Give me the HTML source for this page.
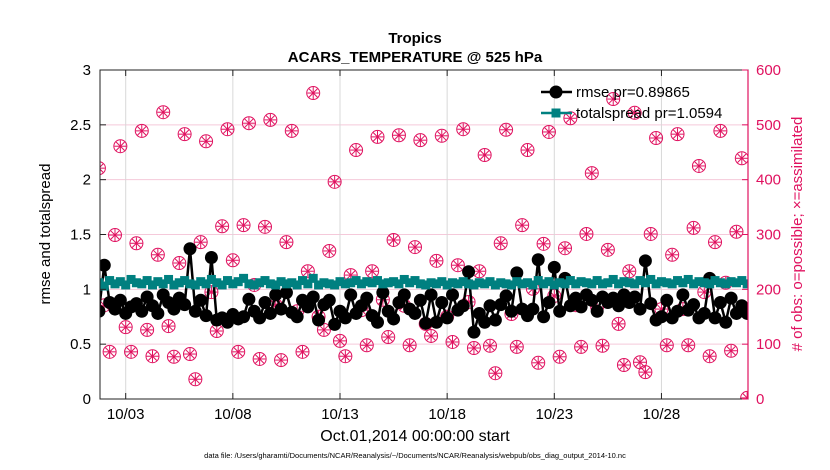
<!DOCTYPE html>
<html><head><meta charset="utf-8">
<style>
body{margin:0;background:#fff;}
svg{display:block;font-family:"Liberation Sans",sans-serif;}
</style></head>
<body>
<svg id="chart" width="830" height="470" viewBox="0 0 830 470">
<defs><clipPath id="plotclip"><rect x="100" y="70" width="648" height="329"/></clipPath></defs>
<text x="415" y="43" text-anchor="middle" font-size="15" font-weight="bold">Tropics</text>
<text x="415" y="62" text-anchor="middle" font-size="15" font-weight="bold">ACARS_TEMPERATURE @ 525 hPa</text>
<g id="grid"></g>
<g id="marks" clip-path="url(#plotclip)"></g>
<g id="axes"></g>
<text x="415" y="441" text-anchor="middle" font-size="16">Oct.01,2014 00:00:00 start</text>
<text transform="translate(50,234) rotate(-90)" text-anchor="middle" font-size="15">rmse and totalspread</text>
<text transform="translate(802,234) rotate(-90)" text-anchor="middle" font-size="15" fill="#e0115f"># of obs: o=possible; ×=assimilated</text>
<text x="415" y="458" text-anchor="middle" font-size="7.5">data file: /Users/gharamti/Documents/NCAR/Reanalysis/~/Documents/NCAR/Reanalysis/webpub/obs_diag_output_2014-10.nc</text>
<g id="legend"></g>
</svg>
<script>
const dateTicks = [3, 8, 13, 18, 23, 28];
const dateLabels = ["10/03", "10/08", "10/13", "10/18", "10/23", "10/28"];
const leftTicks = [0, 0.5, 1, 1.5, 2, 2.5, 3];
const rightTicks = [0, 100, 200, 300, 400, 500, 600];
const obsCount = [286,421,171,86,299,461,131,86,284,489,
126,78,263,523,133,77,248,483,82,36,
286,470,195,124,315,492,253,86,317,503,
208,73,314,509,171,71,286,489,160,86,
233,558,150,126,270,396,106,78,226,454,
162,98,233,478,181,113,290,481,170,98,
277,472,137,115,252,480,150,104,244,492,
177,93,233,445,97,47,284,491,155,95,
317,454,201,66,283,487,188,77,275,512,
171,95,301,412,168,97,272,547,137,62,
233,522,67,49,301,476,164,98,263,483,
164,98,312,425,195,78,286,489,212,88,
305,439,2];
const rmse = [0.85,0.80,1.22,0.88,0.82,0.90,0.78,0.84,0.87,0.80,
0.93,0.85,0.78,0.95,0.88,0.82,0.92,0.86,1.37,0.80,
0.90,0.76,1.29,0.72,0.74,0.70,0.77,0.73,0.75,0.91,
0.80,0.74,0.88,0.78,0.95,0.82,0.97,0.79,0.75,0.90,
0.84,0.93,0.72,0.86,0.90,0.68,0.80,0.74,0.95,0.78,
0.85,0.92,0.76,0.70,0.97,0.80,0.73,0.88,0.95,0.82,
0.78,0.90,0.69,0.95,0.70,0.88,0.74,0.95,0.81,0.85,
1.16,0.61,0.78,0.70,0.85,0.72,0.86,0.94,0.80,1.15,
0.82,0.76,0.82,1.27,0.75,0.88,1.20,0.80,1.10,0.85,
0.92,0.84,0.95,0.90,0.80,0.93,0.88,0.92,0.85,0.95,
0.88,0.93,0.82,1.26,0.87,0.72,0.75,0.90,0.74,0.80,
0.95,0.81,0.86,0.74,0.78,1.10,0.74,0.88,0.70,0.92,
0.78,0.85,0.78];
const spread = [1.04,1.06,1.03,1.08,1.05,1.07,1.04,1.09,1.06,1.05,
1.08,1.04,1.07,1.05,1.09,1.04,1.06,1.08,1.05,1.04,
1.07,1.05,1.09,1.06,1.04,1.08,1.05,1.07,1.10,1.05,
1.04,1.06,1.08,1.05,1.04,1.07,1.05,1.06,1.04,1.08,
1.05,1.10,1.04,1.06,1.05,1.04,1.07,1.05,1.06,1.08,
1.05,1.07,1.06,1.08,1.05,1.06,1.07,1.05,1.09,1.06,
1.08,1.05,1.04,1.06,1.05,1.07,1.04,1.06,1.05,1.07,
1.05,1.04,1.06,1.05,1.07,1.04,1.06,1.05,1.04,1.07,
1.05,1.06,1.04,1.08,1.05,1.07,1.04,1.06,1.05,1.08,
1.05,1.07,1.06,1.05,1.08,1.05,1.06,1.09,1.05,1.07,
1.06,1.05,1.08,1.06,1.09,1.05,1.07,1.06,1.05,1.08,
1.06,1.09,1.05,1.07,1.06,1.05,1.08,1.06,1.05,1.07,
1.06,1.08,1.05];
const T0 = 1.5, DT = 0.25;

const NS = "http://www.w3.org/2000/svg";
const X0 = 100, X1 = 748, Y0 = 399, Y1 = 70;
const xScale = t => 125.7 + (t - 3) * 21.43;
const yL = v => Y0 - (v / 3) * (Y0 - Y1);
const yR = v => Y0 - (v / 600) * (Y0 - Y1);
const PINK = "#e0115f", TEAL = "#008080";
function mk(tag, attrs, parent){const e=document.createElementNS(NS,tag);for(const k in attrs)e.setAttribute(k,attrs[k]);parent.appendChild(e);return e;}
const grid=document.getElementById('grid'), marks=document.getElementById('marks'), axes=document.getElementById('axes'), legend=document.getElementById('legend');

rightTicks.forEach(v=>{const l=mk('line',{x1:X0,x2:X1,y1:yR(v),y2:yR(v),stroke:'#f5c9da','stroke-width':1},grid);

});
dateTicks.forEach((d,i)=>{const x=xScale(d);
const l=mk('line',{x1:x,x2:x,y1:Y1,y2:Y0,stroke:'#d8d8d8','stroke-width':1},grid);


const tk=mk('line',{x1:x,x2:x,y1:Y0,y2:Y0-6,stroke:'#222'},axes);


const tk2=mk('line',{x1:x,x2:x,y1:Y1,y2:Y1+6,stroke:'#222'},axes);


const t=mk('text',{x:x,y:419,'text-anchor':'middle','font-size':15},axes);t.textContent=dateLabels[i];

});

obsCount.forEach((v,i)=>{const cx=xScale(T0+i*DT), cy=yR(v);
const g=mk('g',{stroke:PINK,'stroke-width':1,fill:'none'},marks);


mk('circle',{cx:cx,cy:cy,r:6.5},g);
for(let a=0;a<180;a+=45){const r=a*Math.PI/180;mk('line',{x1:cx-6*Math.cos(r),y1:cy-6*Math.sin(r),x2:cx+6*Math.cos(r),y2:cy+6*Math.sin(r)},g);}
});
let p=rmse.map((v,i)=>xScale(T0+i*DT)+','+yL(v)).join(' ');
const rl=mk('polyline',{points:p,fill:'none',stroke:'#000','stroke-width':2.5},marks);


rmse.forEach((v,i)=>{const c=mk('circle',{cx:xScale(T0+i*DT),cy:yL(v),r:6.5,fill:'#000'},marks);

});
p=spread.map((v,i)=>xScale(T0+i*DT)+','+yL(v)).join(' ');
const sl=mk('polyline',{points:p,fill:'none',stroke:TEAL,'stroke-width':2.5},marks);


spread.forEach((v,i)=>{const s=mk('rect',{x:xScale(T0+i*DT)-4.5,y:yL(v)-4.5,width:9,height:9,fill:TEAL},marks);

});

const ab=mk('rect',{x:X0,y:Y1,width:X1-X0,height:Y0-Y1,fill:'none',stroke:'#222','stroke-width':1},axes);


const ra=mk('line',{x1:X1,x2:X1,y1:Y1,y2:Y0,stroke:PINK,'stroke-width':1.2},axes);


leftTicks.forEach(v=>{const y=yL(v);
const tk=mk('line',{x1:X0,x2:X0+6,y1:y,y2:y,stroke:'#222'},axes);


const t=mk('text',{x:91,y:y+5,'text-anchor':'end','font-size':15},axes);t.textContent=String(v);

});
rightTicks.forEach(v=>{const y=yR(v);
const tk=mk('line',{x1:X1-6,x2:X1,y1:y,y2:y,stroke:PINK},axes);


const t=mk('text',{x:756,y:y+5,'font-size':15,fill:PINK},axes);t.textContent=String(v);

});

const l1=mk('line',{x1:541,x2:572,y1:92,y2:92,stroke:'#000','stroke-width':2.5},legend);


const c1=mk('circle',{cx:556,cy:92,r:6.5,fill:'#000'},legend);


const t1=mk('text',{x:576,y:97,'font-size':15},legend);t1.textContent='rmse pr=0.89865';


const l2=mk('line',{x1:541,x2:572,y1:113,y2:113,stroke:TEAL,'stroke-width':2.5},legend);


const s2=mk('rect',{x:551.5,y:108.5,width:9,height:9,fill:TEAL},legend);


const t2=mk('text',{x:576,y:118,'font-size':15},legend);t2.textContent='totalspread pr=1.0594';


</script>
</body></html>
